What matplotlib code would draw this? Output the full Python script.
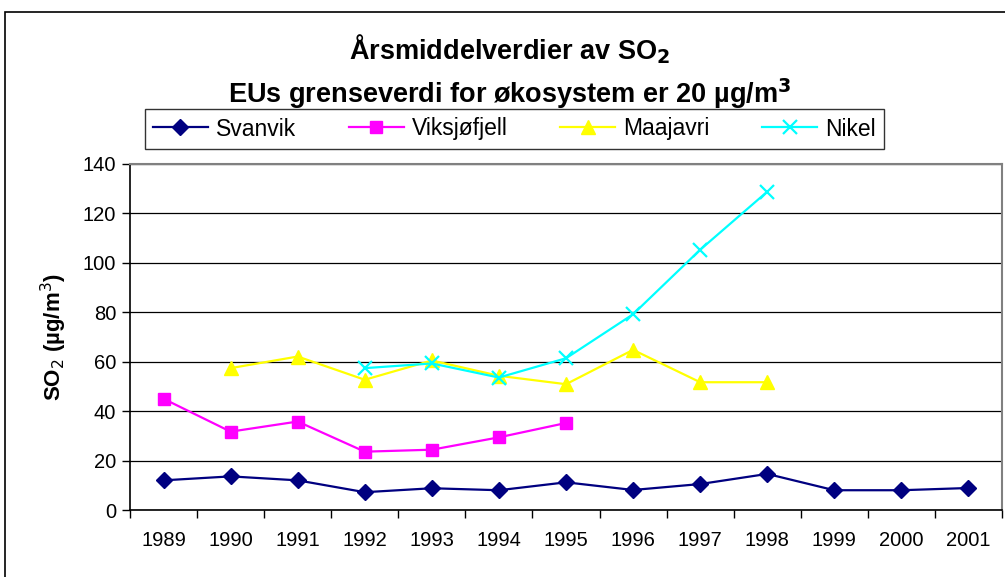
import matplotlib
matplotlib.use("Agg")
import matplotlib.pyplot as plt
from matplotlib.lines import Line2D
from matplotlib.patches import Rectangle
import numpy as np

plt.rcParams['font.family'] = ['Liberation Sans', 'DejaVu Sans']

years = ['1989', '1990', '1991', '1992', '1993', '1994', '1995',
         '1996', '1997', '1998', '1999', '2000', '2001']
svanvik = [12.0, 13.6, 12.0, 7.2, 8.8, 8.0, 11.2, 8.1, 10.5, 14.6, 8.0, 8.0, 8.9]
viksjofjell = [45.0, 31.7, 35.8, 23.6, 24.4, 29.4, 35.2,
               None, None, None, None, None, None]
maajavri = [None, 57.4, 62.1, 52.7, 60.5, 54.3, 50.9, 64.8, 51.7, 51.7,
            None, None, None]
nikel = [None, None, None, 57.4, 59.3, 53.6, 61.4, 79.2, 105.3, 128.8,
         None, None, None]

series = [
    ('Svanvik', svanvik, '#000080', 'D', 8),
    ('Viksjøfjell', viksjofjell, '#FF00FF', 's', 8),
    ('Maajavri', maajavri, '#FFFF00', '^', 10),
    ('Nikel', nikel, '#00FFFF', 'x', 10),
]

fig = plt.figure(figsize=(10.05, 5.77), dpi=100)
ax = fig.add_axes([130/1005, 1-510/577, (1002-130)/1005, (510-164)/577])

x = np.arange(len(years))
handles = []
for name, vals, col, mk, ms in series:
    y = np.array([np.nan if v is None else v for v in vals], dtype=float)
    kw = dict(color=col, lw=1.6, marker=mk, markersize=ms,
              markeredgewidth=1.6 if mk == 'x' else 1.0,
              markeredgecolor=col, markerfacecolor=col)
    ax.plot(x, y, zorder=3, **kw)
    handles.append(Line2D([], [], **kw))

ax.set_xlim(-0.5, len(years) - 0.5)
ax.set_ylim(0, 140)
ax.set_yticks(np.arange(0, 141, 20))
ax.yaxis.grid(True, color='black', lw=0.9)
ax.set_axisbelow(True)
ax.set_xticks(x)
ax.set_xticklabels(years)
ax.set_xticks(np.arange(-0.5, len(years), 1.0), minor=True)
ax.tick_params(axis='x', which='major', length=0, pad=15, labelsize=14.5)
ax.tick_params(axis='x', which='minor', length=6, width=1, direction='out')
ax.tick_params(axis='y', length=6, width=1, direction='out', labelsize=14.5, pad=4)

for s in ['left', 'bottom']:
    ax.spines[s].set_color('black')
    ax.spines[s].set_linewidth(1.2)
for s in ['top', 'right']:
    ax.spines[s].set_color('#808080')
    ax.spines[s].set_linewidth(1.5)

ax.set_ylabel('SO$_2$ (µg/m$^3$)', fontsize=16, fontweight='bold', labelpad=10)

fig.text(0.507, 1-59/577, 'Årsmiddelverdier av SO$_\\mathbf{2}$', ha='center', va='baseline',
         fontsize=19.5, fontweight='bold')
fig.text(0.507, 1-103/577, 'EUs grenseverdi for økosystem er 20 µg/m$^\\mathbf{3}$', ha='center',
         va='baseline', fontsize=19.5, fontweight='bold')

leg = fig.legend(handles, [s[0] for s in series], loc='center',
                 bbox_to_anchor=(514.5/1005, 1-129/577), ncol=4, fontsize=16.5,
                 frameon=True, fancybox=False, edgecolor='black',
                 handlelength=2.4, columnspacing=2.3, handletextpad=0.35,
                 borderpad=0.35, borderaxespad=0)
leg.get_frame().set_linewidth(1.0)

fig.patches.append(Rectangle((5/1005, -0.1), 1.2, 1.1 - 12/577,
                             transform=fig.transFigure, fill=False,
                             edgecolor='black', lw=1.2))

fig.savefig('out.png', dpi=100)
